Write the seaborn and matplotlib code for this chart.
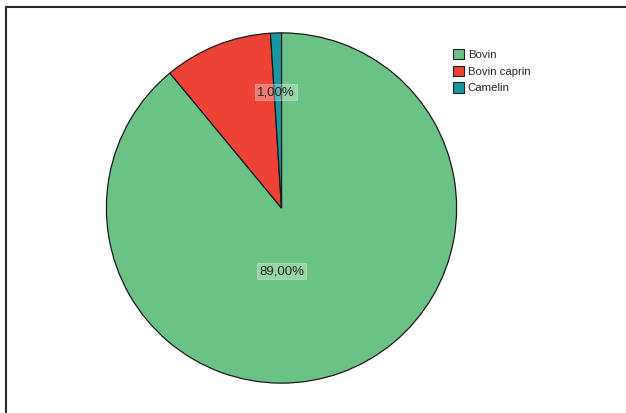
import matplotlib
matplotlib.use("Agg")
import matplotlib.pyplot as plt
import seaborn as sns
from matplotlib.patches import Patch
from matplotlib.lines import Line2D

sns.set_theme(style="white")
plt.rcParams["font.family"] = ["Liberation Sans", "DejaVu Sans"]

# Share of each origin (percent)
categories = ["Bovin", "Bovin caprin", "Camelin"]
shares = [89.0, 10.0, 1.0]
palette = sns.color_palette(["#6bc285", "#ee4236", "#17979f"])

# Which slices carry a percentage label, and where the label sits (pie units)
shown = [True, False, True]
label_xy = [(0.0, -0.36), None, (-0.03, 0.66)]

W, H, DPI = 626, 413, 100
fig = plt.figure(figsize=(W / DPI, H / DPI), dpi=DPI)
fig.patch.set_facecolor("white")

cx, cy, r = 281.5, 208.0, 176.0
ax = fig.add_axes([(cx - r) / W, (H - cy - r) / H, 2 * r / W, 2 * r / H])

wedges, _ = ax.pie(
    shares,
    colors=palette,
    startangle=90,
    counterclock=False,
    radius=1.0,
    wedgeprops=dict(edgecolor="#1a1a1a", linewidth=0.9),
)
ax.set_xlim(-1.005, 1.005)
ax.set_ylim(-1.005, 1.005)
ax.set_aspect("equal")
ax.axis("off")

for val, show, xy in zip(shares, shown, label_xy):
    if not show:
        continue
    txt = f"{val:.2f}".replace(".", ",") + "%"
    ax.text(
        xy[0], xy[1], txt,
        ha="center", va="center", fontsize=9.5, color="#1e2a22",
        bbox=dict(boxstyle="square,pad=0.15", facecolor="white", alpha=0.3,
                  edgecolor="white", linewidth=0.8),
    )

handles = [Patch(facecolor=c, edgecolor="#222222", linewidth=0.8) for c in palette]
fig.legend(
    handles, categories,
    loc="upper left", bbox_to_anchor=(453 / W, 1 - 49 / H),
    frameon=False, fontsize=8.2, borderpad=0, borderaxespad=0,
    handlelength=1.0, handleheight=1.0, handletextpad=0.3,
    labelspacing=0.5,
)

# Chart frame: top and left rules
fig.add_artist(Line2D([6 / W, 1.0], [1 - 7 / H, 1 - 7 / H], transform=fig.transFigure,
                      color="#2a2a2a", linewidth=1.5))
fig.add_artist(Line2D([6 / W, 6 / W], [0.0, 1 - 7 / H], transform=fig.transFigure,
                      color="#2a2a2a", linewidth=1.5))

fig.savefig("out.png", dpi=DPI, facecolor="white")
